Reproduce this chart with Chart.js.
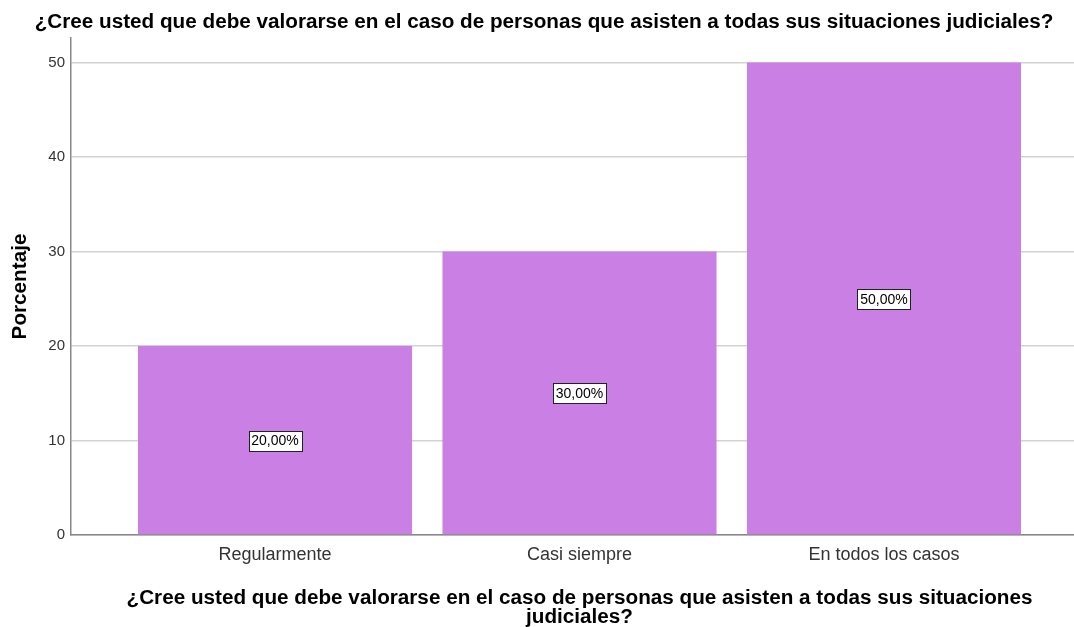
<!DOCTYPE html>
<html>
<head>
<meta charset="utf-8">
<script src="https://cdn.jsdelivr.net/npm/chart.js@4"></script>
<style>
	body { margin: 0; background: #fff; }
	canvas { display: block; }
</style>
</head>
<body>
<canvas id="chart" width="1074" height="627"></canvas>
<script>
const titleText = '¿Cree usted que debe valorarse en el caso de personas que asisten a todas sus situaciones judiciales?';
const xTitleLines = ['¿Cree usted que debe valorarse en el caso de personas que asisten a todas sus situaciones', 'judiciales?'];
const categories = ['Regularmente', 'Casi siempre', 'En todos los casos'];
const percentages = [20, 30, 50];
const yTicks = [0, 10, 20, 30, 40, 50];

const FONT = '"Liberation Sans", Arial, sans-serif';

// Titles and the value boxes are drawn by hand so they land where SPSS puts them
const spssDecor = {
	id: 'spssDecor',
	afterDatasetsDraw(chart) {
		const ctx = chart.ctx;
		const y = chart.scales.y;
		const meta = chart.getDatasetMeta(0);

		ctx.save();
		ctx.font = '14px ' + FONT;
		ctx.textAlign = 'center';
		ctx.textBaseline = 'middle';
		meta.data.forEach((bar, i) => {
			const label = percentages[i].toFixed(2).replace('.', ',') + '%';
			const cx = bar.x;
			const cy = y.getPixelForValue(percentages[i] / 2);
			const w = Math.round(ctx.measureText(label).width + 6);
			const h = 20;
			const left = Math.round(cx - w / 2);
			const top = Math.round(cy - h / 2);
			ctx.fillStyle = '#ffffff';
			ctx.fillRect(left, top, w, h);
			ctx.strokeStyle = '#222';
			ctx.lineWidth = 1;
			ctx.strokeRect(left + 0.5, top + 0.5, w, h);
			ctx.fillStyle = '#000';
			ctx.fillText(label, cx, cy + 1);
		});
		ctx.restore();
	},
	afterDraw(chart) {
		const ctx = chart.ctx;
		const x = chart.scales.x;
		ctx.save();
		ctx.fillStyle = '#000';
		ctx.font = 'bold 20.7px ' + FONT;
		ctx.textAlign = 'center';
		ctx.textBaseline = 'alphabetic';
		ctx.fillText(titleText, 544, 28);

		const mid = x.getPixelForValue(1);
		ctx.fillText(xTitleLines[0], mid, 604);
		ctx.fillText(xTitleLines[1], mid, 623);
		ctx.restore();
	}
};

const ctx = document.getElementById('chart');

new Chart(ctx, {
	type: 'bar',
	data: {
		datasets: [{
			label: 'Porcentaje',
			data: categories.map((c, i) => ({ x: i, y: percentages[i] })),
			backgroundColor: '#ca7fe5',
			borderWidth: 0,
			barPercentage: 0.9,
			categoryPercentage: 1.0,
		}]
	},
	options: {
		responsive: false,
		animation: false,
		layout: { padding: { top: 38, right: 0, left: 0, bottom: 0 } },
		plugins: {
			legend: { display: false },
			tooltip: { enabled: false },
			title: { display: false },
		},
		scales: {
			x: {
				type: 'linear',
				offset: false,
				min: -0.67,
				max: 2.624,
				afterBuildTicks: (scale) => {
					scale.ticks = categories.map((_, i) => ({ value: i }));
				},
				afterFit: (scale) => { scale.height = 92; },
				ticks: {
					callback: (value) => categories[value],
					font: { family: FONT, size: 18 },
					color: '#333',
					padding: 9,
					maxRotation: 0,
					autoSkip: false,
				},
				grid: { display: false, offset: false, drawTicks: false },
				border: { display: true, color: '#888', width: 1.5 },
			},
			y: {
				min: 0,
				max: 52.6,
				afterBuildTicks: (scale) => {
					scale.ticks = yTicks.map(v => ({ value: v }));
				},
				afterFit: (scale) => { scale.width = 71; },
				ticks: {
					font: { family: FONT, size: 15 },
					color: '#333',
					padding: 6,
				},
				grid: { color: '#d2d2d2', lineWidth: 1.5, drawTicks: false },
				border: { display: true, color: '#888', width: 1.5 },
				title: {
					display: true,
					text: 'Porcentaje',
					font: { family: FONT, size: 20.7, weight: 'bold' },
					color: '#000',
					padding: { top: 8, bottom: 0 },
				},
			},
		},
	},
	plugins: [spssDecor],
});
</script>
</body>
</html>
